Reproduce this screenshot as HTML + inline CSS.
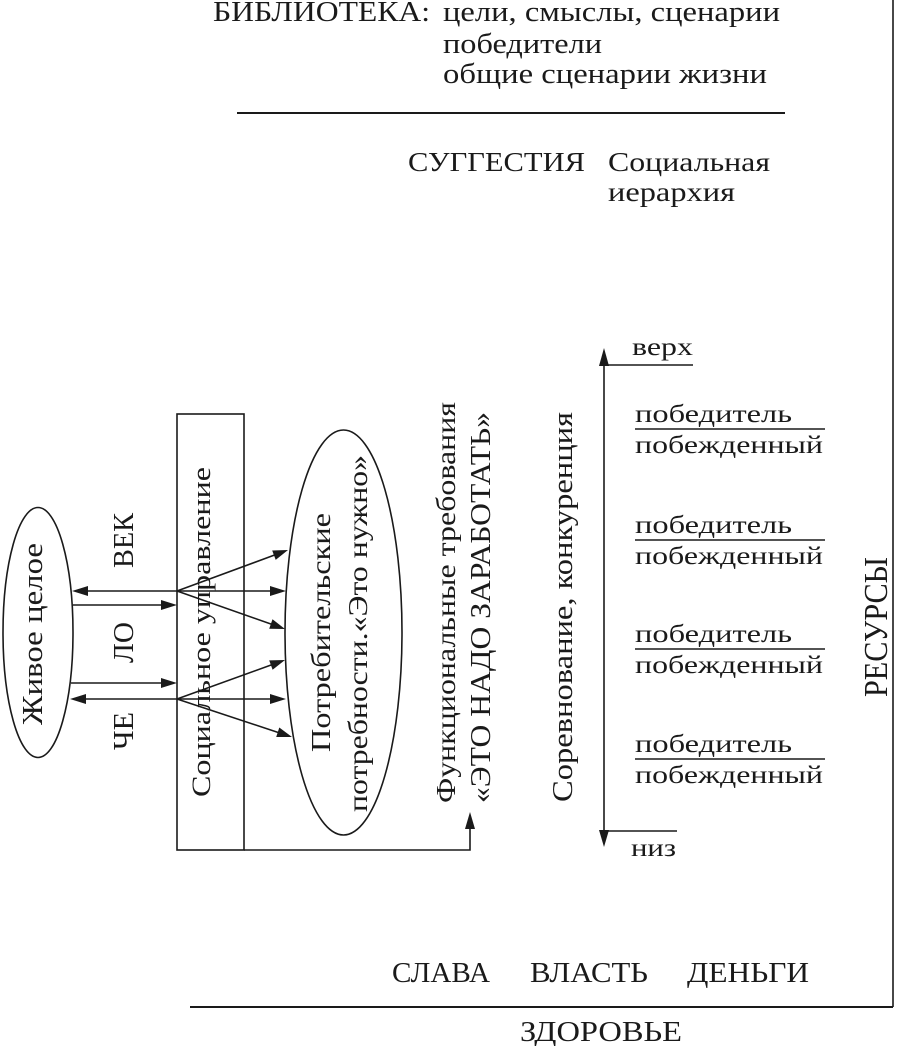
<!DOCTYPE html>
<html>
<head>
<meta charset="utf-8">
<style>
  html, body { margin: 0; padding: 0; background: #fff; }
  svg { display: block; }
  text { font-family: "Liberation Serif", "DejaVu Serif", serif; fill: #1a1a1a; }
</style>
</head>
<body>
<svg width="900" height="1046" viewBox="0 0 900 1046" xmlns="http://www.w3.org/2000/svg">
  <rect x="0" y="0" width="900" height="1046" fill="#fff"/>

  <!-- Top text -->
  <text x="213" y="21" font-size="28" textLength="217" lengthAdjust="spacingAndGlyphs">БИБЛИОТЕКА:</text>
  <text x="443" y="21" font-size="28" textLength="337" lengthAdjust="spacingAndGlyphs">цели, смыслы, сценарии</text>
  <text x="443" y="53" font-size="28" textLength="159" lengthAdjust="spacingAndGlyphs">победители</text>
  <text x="443" y="83" font-size="28" textLength="324" lengthAdjust="spacingAndGlyphs">общие сценарии жизни</text>
  <line x1="237" y1="113" x2="785" y2="113" stroke="#1a1a1a" stroke-width="2"/>

  <text x="408" y="171" font-size="27" textLength="177" lengthAdjust="spacingAndGlyphs">СУГГЕСТИЯ</text>
  <text x="608" y="171" font-size="27" textLength="162" lengthAdjust="spacingAndGlyphs">Социальная</text>
  <text x="608" y="201" font-size="27" textLength="127" lengthAdjust="spacingAndGlyphs">иерархия</text>

  <!-- Frame lines -->
  <line x1="893" y1="0" x2="893" y2="1007" stroke="#1a1a1a" stroke-width="1.6"/>
  <line x1="190" y1="1007" x2="893" y2="1007" stroke="#1a1a1a" stroke-width="2"/>

  <!-- Left ellipse -->
  <ellipse cx="38" cy="632.5" rx="35" ry="125" fill="none" stroke="#1a1a1a" stroke-width="1.6"/>
  <text transform="translate(42,634) rotate(-90)" x="0" y="0" font-size="29" text-anchor="middle" textLength="182" lengthAdjust="spacingAndGlyphs">Живое целое</text>

  <!-- ЧЕ ЛО ВЕК -->
  <text transform="translate(133,568) rotate(-90)" x="0" y="0" font-size="29" textLength="55" lengthAdjust="spacingAndGlyphs">ВЕК</text>
  <text transform="translate(133,663) rotate(-90)" x="0" y="0" font-size="29" textLength="41" lengthAdjust="spacingAndGlyphs">ЛО</text>
  <text transform="translate(133,750) rotate(-90)" x="0" y="0" font-size="29" textLength="38" lengthAdjust="spacingAndGlyphs">ЧЕ</text>

  <!-- Rectangle -->
  <rect x="177" y="414" width="67" height="436" fill="none" stroke="#1a1a1a" stroke-width="1.6"/>
  <text transform="translate(210,797) rotate(-90)" x="0" y="0" font-size="26" textLength="330" lengthAdjust="spacingAndGlyphs">Социальное управление</text>

  <!-- Arrows between ellipse and rect -->
  <g stroke="#1a1a1a" stroke-width="1.6" fill="none">
    <line x1="80" y1="591" x2="278" y2="591"/>
    <line x1="73" y1="605" x2="170" y2="605"/>
    <line x1="71" y1="683" x2="170" y2="683"/>
    <line x1="78" y1="699" x2="278" y2="699"/>
    <!-- upper fan -->
    <line x1="177" y1="591" x2="280" y2="553"/>
    <line x1="177" y1="591" x2="278" y2="626.5"/>
    <!-- lower fan -->
    <line x1="177" y1="699" x2="278" y2="662.5"/>
    <line x1="177" y1="699" x2="285" y2="734.7"/>
    <!-- bottom connector -->
    <polyline points="244,850 470,850 470,824"/>
    <!-- vertical scale -->
    <line x1="604" y1="360" x2="604" y2="836"/>
    <line x1="604" y1="365" x2="693" y2="365"/>
    <line x1="604" y1="831" x2="677" y2="831"/>
  </g>
  <g fill="#1a1a1a">
    <polygon points="72,591 88,586 88,596"/>
    <polygon points="286,591 270,586 270,596"/>
    <polygon points="177,605 161,600 161,610"/>
    <polygon points="177,683 161,678 161,688"/>
    <polygon points="70,699 86,694 86,704"/>
    <polygon points="286,699 270,694 270,704"/>
    <polygon points="288,550 275.7,559.9 272.2,550.5"/>
    <polygon points="285,629 269.2,628.7 272.5,619.3"/>
    <polygon points="285,660 272.6,669.8 269.2,660.4"/>
    <polygon points="292,737 276.2,737 279.3,727.5"/>
    <polygon points="470,812 465,829 475,829"/>
    <polygon points="604,348 599,366 609,366"/>
    <polygon points="604,847 599,830 609,830"/>
  </g>

  <!-- Second ellipse -->
  <ellipse cx="343.5" cy="632.5" rx="58.5" ry="202.5" fill="none" stroke="#1a1a1a" stroke-width="1.6"/>
  <text transform="translate(330,752) rotate(-90)" x="0" y="0" font-size="27" textLength="239" lengthAdjust="spacingAndGlyphs">Потребительские</text>
  <text transform="translate(367,812) rotate(-90)" x="0" y="0" font-size="27" textLength="357" lengthAdjust="spacingAndGlyphs">потребности.«Это нужно»</text>

  <!-- Functional requirements -->
  <text transform="translate(455,803) rotate(-90)" x="0" y="0" font-size="27" textLength="401" lengthAdjust="spacingAndGlyphs">Функциональные требования</text>
  <text transform="translate(490,803) rotate(-90)" x="0" y="0" font-size="29" textLength="391" lengthAdjust="spacingAndGlyphs">«ЭТО НАДО ЗАРАБОТАТЬ»</text>

  <!-- Competition -->
  <text transform="translate(572,802) rotate(-90)" x="0" y="0" font-size="28" textLength="390" lengthAdjust="spacingAndGlyphs">Соревнование, конкуренция</text>

  <!-- Scale labels -->
  <text x="632" y="355" font-size="25" textLength="61" lengthAdjust="spacingAndGlyphs">верх</text>
  <text x="631" y="856" font-size="25" textLength="45" lengthAdjust="spacingAndGlyphs">низ</text>

  <g stroke="#1a1a1a" stroke-width="1.6">
    <line x1="635" y1="429" x2="825" y2="429"/>
    <line x1="635" y1="540" x2="825" y2="540"/>
    <line x1="635" y1="649" x2="825" y2="649"/>
    <line x1="635" y1="759" x2="825" y2="759"/>
  </g>
  <text x="635" y="422" font-size="25" textLength="157" lengthAdjust="spacingAndGlyphs">победитель</text>
  <text x="635" y="453" font-size="25" textLength="188" lengthAdjust="spacingAndGlyphs">побежденный</text>
  <text x="635" y="533" font-size="25" textLength="157" lengthAdjust="spacingAndGlyphs">победитель</text>
  <text x="635" y="564" font-size="25" textLength="188" lengthAdjust="spacingAndGlyphs">побежденный</text>
  <text x="635" y="642" font-size="25" textLength="157" lengthAdjust="spacingAndGlyphs">победитель</text>
  <text x="635" y="673" font-size="25" textLength="188" lengthAdjust="spacingAndGlyphs">побежденный</text>
  <text x="635" y="752" font-size="25" textLength="157" lengthAdjust="spacingAndGlyphs">победитель</text>
  <text x="635" y="783" font-size="25" textLength="188" lengthAdjust="spacingAndGlyphs">побежденный</text>

  <!-- РЕСУРСЫ -->
  <text transform="translate(887,697) rotate(-90)" x="0" y="0" font-size="34" textLength="140" lengthAdjust="spacingAndGlyphs">РЕСУРСЫ</text>

  <!-- Bottom -->
  <text x="392" y="982" font-size="28" textLength="98" lengthAdjust="spacingAndGlyphs">СЛАВА</text>
  <text x="530" y="982" font-size="28" textLength="118" lengthAdjust="spacingAndGlyphs">ВЛАСТЬ</text>
  <text x="687" y="982" font-size="28" textLength="122" lengthAdjust="spacingAndGlyphs">ДЕНЬГИ</text>
  <text x="520" y="1041" font-size="28" textLength="162" lengthAdjust="spacingAndGlyphs">ЗДОРОВЬЕ</text>
</svg>
</body>
</html>
